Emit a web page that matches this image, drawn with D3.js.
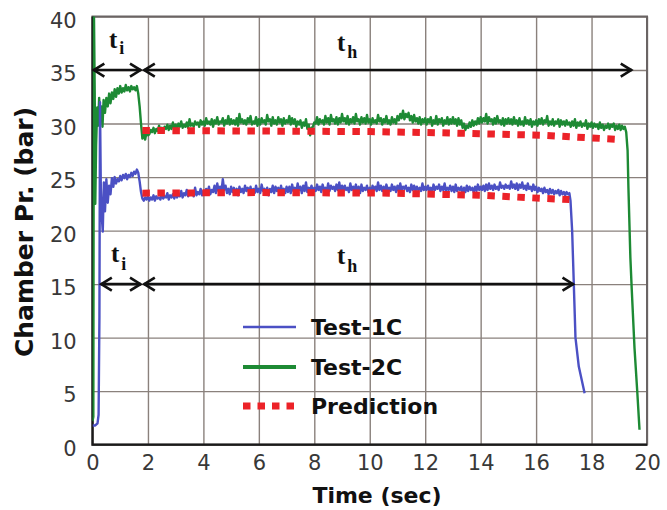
<!DOCTYPE html>
<html>
<head>
<meta charset="utf-8">
<script src="https://cdn.jsdelivr.net/npm/d3@7"></script>
<style>
  body { margin: 0; background: #fff; }
  svg { display: block; }
</style>
</head>
<body>
<svg id="chart" width="667" height="510"></svg>
<script>
// ---- axis ticks ----
const xTicks = [0, 2, 4, 6, 8, 10, 12, 14, 16, 18, 20];
const yTicks = [0, 5, 10, 15, 20, 25, 30, 35, 40];

// ---- Test-1C chamber pressure (bar) ----
const test1cStartTime = [0, 0.1, 0.18, 0.22, 0.25, 0.27, 0.3, 0.33, 0.37, 0.41, 0.45, 0.5, 0.55, 0.6, 0.65, 0.7, 0.75, 0.8, 0.85, 0.9, 0.95, 1.0, 1.05, 1.1, 1.15, 1.2, 1.25, 1.3, 1.35, 1.4, 1.45, 1.5, 1.55, 1.6, 1.65, 1.7, 1.75, 1.8, 1.85, 1.9, 1.95, 2.0];
const test1cStartValue = [1.8, 1.8, 2.0, 2.8, 12, 32, 24, 21.5, 19.9, 24.5, 21.8, 24.8, 22.6, 24.2, 23.4, 24.9, 24.1, 25.0, 24.4, 24.8, 24.6, 25.1, 24.7, 25.2, 24.9, 25.3, 24.8, 25.2, 25.0, 25.4, 25.1, 25.5, 25.3, 25.7, 25.4, 24.6, 23.6, 23.0, 22.8, 23.1, 22.9, 23.2];
// steady burn, sampled every 0.05 s from 2.05 s
const test1cSteady = [
  22.8, 23.1, 22.9, 23.3, 22.8, 23.2, 23.0, 23.1, 22.9, 23.4, 23.0, 23.2, 23.1, 23.5, 22.9, 23.3, 23.1, 23.4, 23.0, 23.5,
  23.1, 23.4, 23.2, 23.7, 23.1, 23.5, 23.3, 23.8, 23.2, 23.5, 23.4, 23.7, 23.2, 24.0, 23.3, 23.6, 23.4, 23.9, 23.3, 23.7,
  23.4, 23.9, 23.5, 24.1, 23.4, 23.8, 23.6, 24.2, 23.5, 24.4, 23.7, 24.1, 23.6, 24.8, 23.8, 24.2, 23.5, 23.9, 23.4, 24.1,
  23.6, 24.0, 23.5, 23.9, 23.3, 24.1, 23.6, 23.9, 23.5, 24.2, 23.7, 24.0, 23.6, 24.1, 23.4, 23.9, 23.5, 24.2, 23.6, 23.9,
  23.5, 24.3, 23.7, 23.9, 23.5, 24.0, 23.3, 23.9, 23.6, 24.2, 23.5, 24.1, 23.7, 24.0, 23.4, 24.2, 23.6, 23.9, 23.5, 24.1,
  23.6, 24.1, 23.5, 24.3, 23.7, 24.0, 23.6, 24.4, 23.8, 24.1, 23.5, 24.2, 23.7, 24.5, 23.6, 24.0, 23.7, 24.2, 23.6, 24.0,
  23.7, 24.3, 23.8, 24.1, 23.6, 24.3, 23.8, 24.0, 23.6, 24.4, 23.7, 24.2, 23.9, 24.1, 23.7, 24.3, 23.8, 24.5, 23.7, 24.2,
  23.7, 24.2, 23.8, 24.0, 23.6, 24.4, 23.8, 24.1, 23.7, 24.3, 23.6, 24.1, 23.5, 24.3, 23.7, 24.0, 23.8, 24.2, 23.6, 24.0,
  23.6, 24.2, 23.8, 24.1, 23.7, 24.5, 23.8, 24.2, 23.7, 24.1, 23.6, 24.3, 23.8, 24.0, 23.7, 24.3, 23.8, 24.1, 23.6, 24.2,
  23.7, 24.4, 23.8, 24.1, 23.9, 24.2, 23.7, 24.0, 23.6, 24.3, 23.8, 24.2, 23.7, 24.1, 23.8, 24.0, 23.7, 24.4, 23.8, 24.1,
  23.8, 24.2, 23.7, 24.0, 23.6, 24.3, 23.8, 24.1, 23.9, 24.3, 23.7, 24.1, 23.8, 24.4, 23.7, 24.0, 23.8, 24.2, 23.7, 24.1,
  23.6, 24.3, 23.7, 24.0, 23.8, 24.1, 23.5, 24.0, 23.6, 24.2, 23.7, 24.1, 23.8, 24.0, 23.6, 24.1, 23.7, 24.3, 23.8, 24.1,
  23.8, 24.2, 23.7, 24.3, 23.8, 24.4, 23.9, 24.2, 23.8, 24.3, 23.9, 24.1, 23.8, 24.5, 24.0, 24.2, 23.9, 24.3, 24.0, 24.2,
  23.9, 24.6, 24.0, 24.3, 23.9, 24.4, 23.8, 24.3, 24.0, 24.5, 23.9, 24.2, 23.8, 24.4, 23.9, 24.1, 23.7, 24.3, 23.8, 24.1,
  23.6, 24.0, 23.7, 23.9, 23.5, 24.0, 23.6, 23.8, 23.4, 23.9, 23.5, 23.8, 23.4, 23.7, 23.5, 23.8, 23.3, 23.7, 23.4, 23.6,
  23.3, 23.6, 23.4, 23.5
];
const test1cEndTime = [17.24, 17.3, 17.36, 17.42, 17.54, 17.65, 17.75];
const test1cEndValue = [22.8, 20.0, 15.0, 10.0, 7.3, 6.0, 4.8];

// ---- Test-2C chamber pressure (bar) ----
const test2cStartTime = [0, 0.03, 0.05, 0.08, 0.1, 0.13, 0.17, 0.2, 0.24, 0.28, 0.32, 0.36, 0.4, 0.45, 0.5, 0.55, 0.6, 0.65, 0.7, 0.75, 0.8, 0.85, 0.9, 0.95, 1.0, 1.05, 1.1, 1.15, 1.2, 1.25, 1.3, 1.35, 1.4, 1.45, 1.5, 1.55, 1.6, 1.65, 1.7, 1.75, 1.8, 1.85, 1.9, 1.95, 2.0];
const test2cStartValue = [2.2, 2.6, 41, 33, 22.5, 28, 31.5, 29.8, 32.4, 30.2, 31.6, 29.7, 32.2, 31.0, 32.4, 31.6, 32.8, 31.9, 32.9, 32.3, 33.2, 32.5, 33.3, 32.8, 33.5, 32.9, 33.3, 33.0, 33.6, 33.1, 33.4, 33.0, 33.5, 33.2, 33.4, 33.1, 33.5, 32.8, 31.6, 30.0, 28.6, 29.0, 28.5, 29.2, 28.9];
// steady burn, sampled every 0.05 s from 2.05 s
const test2cSteady = [
  29.0, 29.4, 29.2, 29.6, 29.1, 29.5, 29.3, 29.8, 29.4, 29.6, 29.2, 29.7, 29.5, 29.9, 29.4, 29.8, 29.5, 30.1, 29.6, 29.9,
  29.5, 30.0, 29.7, 30.2, 29.6, 29.9, 29.7, 30.1, 29.6, 30.4, 29.8, 30.0, 29.7, 30.2, 29.9, 30.1, 29.7, 30.3, 29.9, 30.2,
  29.8, 30.5, 30.0, 30.2, 29.9, 30.4, 29.7, 30.3, 30.0, 30.6, 29.9, 30.2, 30.1, 30.5, 29.8, 30.3, 30.0, 30.7, 29.9, 30.4,
  30.0, 30.3, 29.9, 30.5, 29.8, 30.9, 30.1, 30.4, 30.0, 30.3, 29.9, 30.5, 30.1, 30.7, 29.9, 30.2, 30.0, 30.6, 29.8, 30.4,
  29.9, 30.5, 30.1, 30.3, 29.9, 30.8, 30.2, 30.4, 29.8, 30.6, 30.0, 30.3, 29.9, 30.6, 30.1, 30.4, 29.8, 30.5, 30.0, 30.3,
  30.1, 30.7, 29.9, 30.5, 30.0, 30.4, 29.7, 30.2, 29.9, 30.3, 29.6, 30.1, 29.8, 30.4, 29.5, 29.9, 28.9, 29.6, 29.7, 30.1,
  30.0, 30.6, 29.9, 30.4, 30.1, 30.3, 29.9, 30.7, 30.1, 30.5, 29.9, 30.8, 30.2, 30.4, 30.0, 30.6, 29.9, 30.5, 30.1, 30.9,
  30.2, 30.5, 30.0, 30.7, 29.9, 30.4, 30.1, 30.6, 30.0, 30.9, 30.2, 30.4, 29.9, 30.6, 30.1, 30.5, 30.0, 30.8, 30.1, 30.4,
  29.9, 30.5, 30.1, 30.3, 30.0, 30.8, 30.2, 30.5, 29.9, 30.4, 30.1, 30.7, 30.0, 30.3, 29.9, 30.6, 30.1, 30.4, 30.0, 30.7,
  30.3, 30.9, 30.5, 31.2, 30.4, 30.9, 30.6, 31.0, 30.3, 30.7, 30.1, 30.8, 30.2, 30.5, 30.0, 30.6, 29.9, 30.4, 30.1, 30.5,
  29.9, 30.4, 30.1, 30.6, 29.8, 30.3, 30.0, 30.7, 29.9, 30.4, 30.1, 30.5, 29.8, 30.3, 30.0, 30.6, 29.9, 30.4, 30.0, 30.6,
  30.0, 30.4, 29.8, 30.5, 29.9, 30.3, 29.6, 30.0, 29.4, 29.8, 29.6, 30.1, 29.7, 30.3, 29.8, 30.2, 29.9, 30.5, 30.0, 30.6,
  30.1, 30.5, 30.2, 30.9, 30.0, 30.6, 30.2, 30.4, 29.9, 30.5, 30.0, 30.7, 30.1, 30.3, 29.9, 30.5, 29.8, 30.4, 30.0, 30.5,
  30.0, 30.4, 29.9, 30.6, 30.0, 30.3, 29.8, 30.5, 29.9, 30.2, 29.8, 30.6, 30.0, 30.3, 29.9, 30.4, 29.7, 30.2, 29.9, 30.3,
  29.8, 30.4, 30.0, 30.5, 29.9, 30.3, 30.1, 30.7, 29.8, 30.2, 29.9, 30.4, 29.8, 30.2, 30.0, 30.4, 29.7, 30.3, 29.9, 30.2,
  29.8, 30.3, 29.9, 30.1, 29.7, 30.2, 29.8, 30.4, 29.6, 30.1, 29.8, 30.2, 29.7, 30.0, 29.8, 30.3, 29.5, 30.0, 29.7, 30.1,
  29.6, 30.0, 29.7, 29.9, 29.5, 30.1, 29.6, 29.9, 29.4, 29.8, 29.6, 30.0, 29.5, 29.9, 29.7, 30.0, 29.4, 29.8, 29.5, 29.9,
  29.4, 29.8, 29.5, 29.7
];
const test2cEndTime = [19.25, 19.3, 19.33, 19.4, 19.45, 19.55, 19.65, 19.73];
const test2cEndValue = [29.2, 27.5, 24.0, 17.5, 14.5, 9.0, 4.9, 1.4];

// ---- predicted chamber pressure (bar) ----
const pred2cTime = [1.8, 6, 10, 12.4, 16.3, 19.1];
const pred2cValue = [29.35, 29.3, 29.25, 29.15, 28.9, 28.5];
const pred1cTime = [1.8, 6, 10.7, 14, 16.3, 17.2];
const pred1cValue = [23.5, 23.55, 23.5, 23.3, 23.0, 22.9];

// ---- burn-phase spans (s): ignition t_i and hold t_h ----
const upperSpans = [[0.03, 1.75], [1.85, 19.45]];
const lowerSpans = [[0.3, 1.75], [1.85, 17.35]];
const upperLevel = 35;
const lowerLevel = 15;

const legendLabels = ["Test-1C", "Test-2C", "Prediction"];

// ---- assemble series ----
const steadyStart = 2.05, steadyStep = 0.05;
function buildSeries(t0, v0, steady, t1, v1) {
  const pts = t0.map((t, i) => [t, v0[i]]);
  steady.forEach((v, i) => pts.push([+(steadyStart + i * steadyStep).toFixed(2), v]));
  t1.forEach((t, i) => pts.push([t, v1[i]]));
  return pts;
}
const test1c = buildSeries(test1cStartTime, test1cStartValue, test1cSteady, test1cEndTime, test1cEndValue);
const test2c = buildSeries(test2cStartTime, test2cStartValue, test2cSteady, test2cEndTime, test2cEndValue);
const pred2c = pred2cTime.map((t, i) => [t, pred2cValue[i]]);
const pred1c = pred1cTime.map((t, i) => [t, pred1cValue[i]]);

// ---- layout ----
const X0 = 92.5, X1 = 647, Y0 = 444.7, Y1 = 16.5;
const x = d3.scaleLinear().domain([0, 20]).range([X0, X1]);
const y = d3.scaleLinear().domain([0, 40]).range([Y0, Y1]);

const colors = { c1: "#4b50c4", c2: "#1d8a34", pred: "#ec2228" };
const svg = d3.select("#chart");

svg.append("defs").append("clipPath").attr("id", "plotClip")
  .append("rect").attr("x", X0).attr("y", Y1).attr("width", X1 - X0).attr("height", Y0 - Y1);

const chev = svg.select("defs").append("marker")
  .attr("id", "chev").attr("markerUnits", "userSpaceOnUse")
  .attr("viewBox", "-13 -9 15 18").attr("refX", 0).attr("refY", 0)
  .attr("markerWidth", 15).attr("markerHeight", 18)
  .attr("orient", "auto-start-reverse");
chev.append("path").attr("d", "M-11,-6.5 L-0.5,0 L-11,6.5")
  .attr("fill", "none").attr("stroke", "#111").attr("stroke-width", 2.6)
  .attr("stroke-linejoin", "miter");

// ---- gridlines via axes ----
const gx = svg.append("g").attr("transform", `translate(0,${Y0})`)
  .call(d3.axisBottom(x).tickValues(xTicks).tickSize(-(Y0 - Y1)).tickPadding(10.5).tickFormat(d3.format("d")));
gx.select(".domain").remove();
gx.selectAll(".tick line").attr("stroke", "#8a817c").attr("stroke-width", 1.4);
gx.selectAll(".tick text").attr("font-family", "DejaVu Sans").attr("font-size", 21).attr("fill", "#383838");

const gy = svg.append("g").attr("transform", `translate(${X0},0)`)
  .call(d3.axisLeft(y).tickValues(yTicks).tickSize(-(X1 - X0)).tickPadding(15.8).tickFormat(d3.format("d")));
gy.select(".domain").remove();
gy.selectAll(".tick line").attr("stroke", "#8a817c").attr("stroke-width", 1.4);
gy.selectAll(".tick text").attr("font-family", "DejaVu Sans").attr("font-size", 21).attr("fill", "#383838").attr("dy", "0.5em");

// ---- frame ----
svg.append("rect").attr("x", X0).attr("y", Y1).attr("width", X1 - X0).attr("height", Y0 - Y1)
  .attr("fill", "none").attr("stroke", "#6a6464").attr("stroke-width", 2);
svg.append("path").attr("d", `M${X0},${Y1}V${Y0}H${X1}`)
  .attr("fill", "none").attr("stroke", "#1a1a1a").attr("stroke-width", 2.2);

// ---- data lines ----
const line = d3.line().x(d => x(d[0])).y(d => y(d[1]));
const plot = svg.append("g").attr("clip-path", "url(#plotClip)");
plot.append("path").datum(test2c).attr("d", line)
  .attr("fill", "none").attr("stroke", colors.c2).attr("stroke-width", 2.4).attr("stroke-linejoin", "round");
plot.append("path").datum(test1c).attr("d", line)
  .attr("fill", "none").attr("stroke", colors.c1).attr("stroke-width", 2.4).attr("stroke-linejoin", "round");
[pred2c, pred1c].forEach(p => {
  plot.append("path").datum(p).attr("d", line)
    .attr("fill", "none").attr("stroke", colors.pred).attr("stroke-width", 7)
    .attr("stroke-dasharray", "7.5 7.5");
});

// ---- phase arrows ----
function spanArrows(spans, level) {
  spans.forEach(s => {
    svg.append("line")
      .attr("x1", x(s[0])).attr("x2", x(s[1])).attr("y1", y(level)).attr("y2", y(level))
      .attr("stroke", "#111").attr("stroke-width", 2.6)
      .attr("marker-start", "url(#chev)").attr("marker-end", "url(#chev)");
  });
}
spanArrows(upperSpans, upperLevel);
spanArrows(lowerSpans, lowerLevel);

function phaseLabel(px, py, sub, subDy) {
  const t = svg.append("text").attr("x", px).attr("y", py)
    .attr("font-family", "Liberation Serif").attr("font-weight", "bold")
    .attr("font-size", 25).attr("fill", "#111");
  t.append("tspan").text("t");
  t.append("tspan").attr("dx", 2).attr("dy", subDy).attr("font-size", 18).text(sub);
}
phaseLabel(109, 48, "i", 6);
phaseLabel(337, 51, "h", 7);
phaseLabel(111, 262, "i", 8);
phaseLabel(337, 264, "h", 8);

// ---- legend ----
const legend = svg.append("g");
const legendRows = [
  { label: legendLabels[0], color: colors.c1, w: 2.5, dash: null, ly: 327 },
  { label: legendLabels[1], color: colors.c2, w: 4, dash: null, ly: 367 },
  { label: legendLabels[2], color: colors.pred, w: 7, dash: "7.5 7", ly: 406 }
];
legendRows.forEach(r => {
  legend.append("line").attr("x1", 243).attr("x2", 296).attr("y1", r.ly).attr("y2", r.ly)
    .attr("stroke", r.color).attr("stroke-width", r.w).attr("stroke-dasharray", r.dash);
  legend.append("text").attr("x", 311).attr("y", r.ly + 8)
    .attr("font-family", "DejaVu Sans").attr("font-weight", "bold").attr("font-size", 22)
    .attr("fill", "#111").text(r.label);
});

// ---- axis titles ----
svg.append("text").attr("x", 377).attr("y", 503).attr("text-anchor", "middle")
  .attr("font-family", "DejaVu Sans").attr("font-weight", "bold").attr("font-size", 22)
  .attr("fill", "#111").text("Time (sec)");
svg.append("text").attr("transform", "translate(33,232) rotate(-90)").attr("text-anchor", "middle")
  .attr("font-family", "DejaVu Sans").attr("font-weight", "bold").attr("font-size", 25)
  .attr("fill", "#111").text("Chamber Pr. (bar)");
</script>
</body>
</html>
